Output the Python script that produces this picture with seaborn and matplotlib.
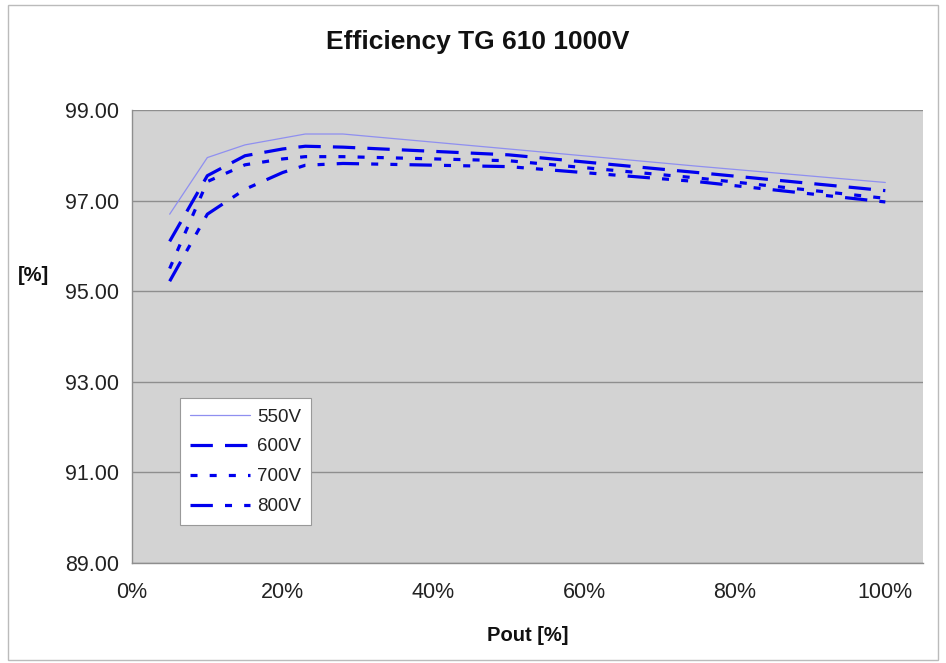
import matplotlib
matplotlib.use("Agg")
import matplotlib.pyplot as plt
import seaborn as sns
import pandas as pd
from matplotlib.patches import Rectangle

# ---- data ----
pout = [5, 10, 15, 20, 23, 28, 50, 75, 100]
eff_550 = [96.70, 97.95, 98.23, 98.38, 98.47, 98.47, 98.14, 97.76, 97.40]
eff_600 = [96.10, 97.55, 97.99, 98.14, 98.20, 98.18, 98.01, 97.62, 97.22]
eff_700 = [95.50, 97.42, 97.79, 97.92, 97.97, 97.97, 97.88, 97.50, 97.05]
eff_800 = [95.22, 96.70, 97.25, 97.62, 97.78, 97.82, 97.75, 97.42, 96.97]
series_names = ["550V", "600V", "700V", "800V"]
x_ticks = [0, 20, 40, 60, 80, 100]
x_tick_labels = ["0%", "20%", "40%", "60%", "80%", "100%"]
y_ticks = [89, 91, 93, 95, 97, 99]

sns.set_theme(style="white")
plt.rcParams["font.family"] = ["Liberation Sans", "DejaVu Sans"]

df = pd.DataFrame({"Pout": pout * 4,
                   "Eff": eff_550 + eff_600 + eff_700 + eff_800,
                   "Series": sum([[n] * len(pout) for n in series_names], [])})

fig = plt.figure(figsize=(9.46, 6.63), dpi=100)
ax = fig.add_axes([132 / 946, 1 - 563 / 663, (923 - 132) / 946, (563 - 110) / 663])
ax.set_facecolor("#d3d3d3")

styles = {
    "550V": dict(color="#8f8ff0", lw=0.9, linestyle="-"),
    "600V": dict(color="#0000ee", lw=2.3, linestyle=(0, (7.0, 3.8))),
    "700V": dict(color="#0000ee", lw=2.3, linestyle=(0, (2.2, 3.8))),
    "800V": dict(color="#0000ee", lw=2.3, linestyle=(0, (7.0, 3.8, 2.2, 3.8, 2.2, 3.8))),
}
for name in series_names:
    sub = df[df["Series"] == name]
    sns.lineplot(data=sub, x="Pout", y="Eff", ax=ax, label=name,
                 sort=False, estimator=None, **styles[name])

ax.set_xlim(0, 105)
ax.set_ylim(89, 99)
ax.set_xticks(x_ticks)
ax.set_xticklabels(x_tick_labels)
ax.set_yticks(y_ticks)
ax.set_yticklabels([f"{v:.2f}" for v in y_ticks])
ax.yaxis.grid(True, color="#8e8e8e", lw=1.0)
ax.xaxis.grid(False)
ax.set_axisbelow(True)
for s in ["top", "right"]:
    ax.spines[s].set_visible(False)
for s in ["left", "bottom"]:
    ax.spines[s].set_color("#8e8e8e")
    ax.spines[s].set_linewidth(1.0)
ax.tick_params(axis="both", which="major", direction="out", length=5,
               color="#8e8e8e", labelsize=15.5, labelcolor="#222222", pad=4)
ax.tick_params(axis="x", pad=9)

ax.set_xlabel("Pout [%]", fontsize=14.5, fontweight="bold", labelpad=16,
              color="#111111")
ax.set_ylabel("")
fig.text(18 / 946, 1 - 275 / 663, "[%]", fontsize=14.5, fontweight="bold",
         ha="left", va="center", color="#111111")
fig.suptitle("Efficiency TG 610 1000V", fontsize=19, fontweight="bold",
             x=478 / 946, y=1 - 42 / 663, va="center", color="#111111")

leg = ax.legend(loc="upper left", bbox_to_anchor=(0.0607, 0.364), borderaxespad=0,
                fontsize=13.5, handlelength=3.2, labelspacing=0.68,
                frameon=True, fancybox=False, edgecolor="#999999",
                framealpha=1, borderpad=0.55, handletextpad=0.35)
leg.get_frame().set_linewidth(0.8)
for t in leg.get_texts():
    t.set_color("#222222")

fig.patches.append(Rectangle((8 / 946, 3 / 663), 930 / 946, 655 / 663,
                             transform=fig.transFigure, fill=False,
                             edgecolor="#bbbbbb", lw=1.0))

fig.savefig("out.png", dpi=100)
